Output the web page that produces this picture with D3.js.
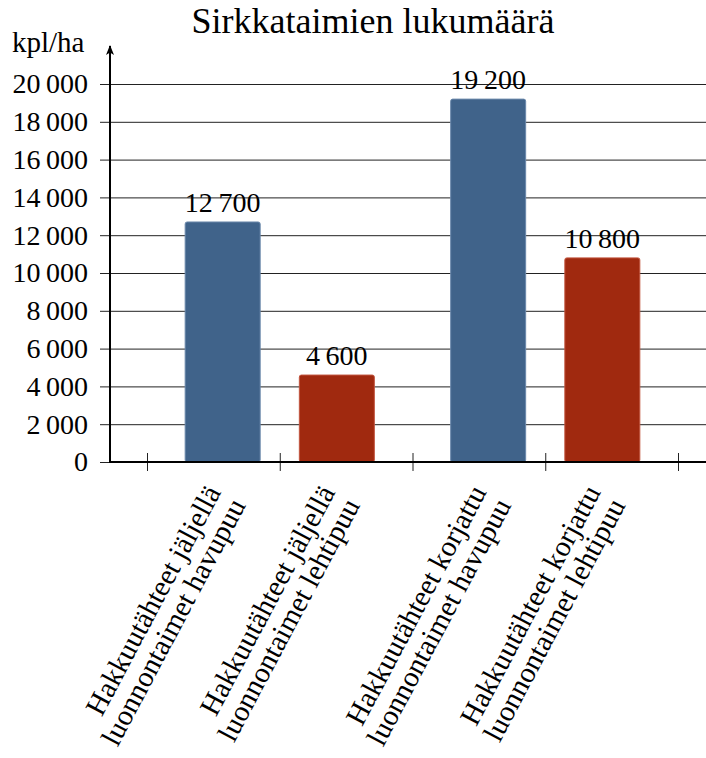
<!DOCTYPE html>
<html>
<head>
<meta charset="utf-8">
<script src="https://cdn.jsdelivr.net/npm/d3@7"></script>
<style>
  body { margin: 0; background: #fff; }
</style>
</head>
<body>
<div id="node"></div>
<script>
// chart data
const title = "Sirkkataimien lukumäärä";
const yLabel = "kpl/ha";
const groups = ["Hakkuutähteet jäljellä", "Hakkuutähteet korjattu"];
const species = ["luonnontaimet havupuu", "luonnontaimet lehtipuu"];
const values = [
    [12700, 4600],   // jäljellä: havupuu, lehtipuu
    [19200, 10800]   // korjattu: havupuu, lehtipuu
];
const colors = ["#40638a", "#a0290f"];
const strokes = ["#6a88ab", "#c2553f"];
const yTicks = [0, 2000, 4000, 6000, 8000, 10000, 12000, 14000, 16000, 18000, 20000];
const xTicks = [0, 1, 2, 3, 4];

const width = 706, height = 758;
const axisLeftX = 110, axisY = 462;
const serif = "Liberation Serif";

// finnish number format with thin space thousands separator
const fi = d3.formatLocale({ decimal: ",", thousands: "\u2009", grouping: [3], currency: ["", " €"] });
const fmt = fi.format(",d");

const svg = d3.select("#node")
    .append("svg")
    .attr("width", width)
    .attr("height", height)
    .style("font-family", serif);

const x = d3.scaleLinear().domain([0, 4]).range([147, 678]);
const y = d3.scaleLinear().domain([0, 20000]).range([axisY, 84]);

const barW = x(0.565) - x(0);
const offset = 0.43;

// grid lines
svg.append("g")
    .attr("transform", "translate(" + axisLeftX + ",0)")
    .call(d3.axisLeft(y).tickValues(yTicks).tickSize(-(width - axisLeftX)).tickFormat(""))
    .call(g => g.select(".domain").remove())
    .call(g => g.selectAll("line").attr("stroke", "#222").attr("stroke-width", 1));

// y axis ticks + labels
svg.append("g")
    .attr("transform", "translate(" + axisLeftX + ",0)")
    .call(d3.axisLeft(y).tickValues(yTicks).tickSize(10).tickPadding(12).tickFormat(fmt))
    .call(g => g.select(".domain").remove())
    .call(g => g.selectAll("line").attr("stroke", "#222"))
    .call(g => g.selectAll("text")
        .style("font-family", serif)
        .attr("font-size", 28)
        .attr("fill", "#000"));

// bars
const bars = [];
values.forEach((row, gi) => {
    row.forEach((v, si) => {
        bars.push({ group: gi, series: si, value: v, pos: gi * 2 + 1 + (si === 0 ? -offset : offset) });
    });
});

svg.append("g")
    .selectAll("rect")
    .data(bars)
    .enter()
    .append("rect")
    .attr("x", d => x(d.pos) - barW / 2)
    .attr("y", d => y(d.value))
    .attr("width", barW)
    .attr("height", d => axisY - y(d.value))
    .attr("rx", 2)
    .attr("fill", d => colors[d.series])
    .attr("stroke", d => strokes[d.series])
    .attr("stroke-width", 1);

// value labels
svg.append("g")
    .selectAll("text")
    .data(bars)
    .enter()
    .append("text")
    .attr("x", d => x(d.pos))
    .attr("y", d => y(d.value) - 10)
    .attr("text-anchor", "middle")
    .style("font-family", serif)
    .attr("font-size", 28)
    .text(d => fmt(d.value));

// x axis
svg.append("g")
    .attr("transform", "translate(0," + axisY + ")")
    .call(d3.axisBottom(x).tickValues(xTicks).tickSize(9).tickFormat(""))
    .call(g => g.select(".domain").remove())
    .call(g => g.selectAll("line").attr("y1", -9).attr("stroke", "#222"));

svg.append("line")
    .attr("x1", axisLeftX - 1).attr("x2", width)
    .attr("y1", axisY).attr("y2", axisY)
    .attr("stroke", "#000").attr("stroke-width", 2);

// y axis line with arrow
svg.append("defs").append("marker")
    .attr("id", "arrow")
    .attr("viewBox", "0 0 10 10")
    .attr("refX", 9).attr("refY", 5)
    .attr("markerWidth", 5).attr("markerHeight", 5)
    .attr("markerUnits", "strokeWidth")
    .attr("orient", "auto")
    .append("path")
    .attr("d", "M0,1 L10,5 L0,9 L2.5,5 Z")
    .attr("fill", "#000");

svg.append("line")
    .attr("x1", axisLeftX).attr("x2", axisLeftX)
    .attr("y1", axisY + 1).attr("y2", 46)
    .attr("stroke", "#000").attr("stroke-width", 2)
    .attr("marker-end", "url(#arrow)");

// category labels (rotated, two lines)
const labelAngle = -62;
const labels = svg.append("g")
    .selectAll("text")
    .data(bars)
    .enter()
    .append("text")
    .attr("transform", d => "translate(" + (x(d.pos) - 1) + ",492) rotate(" + labelAngle + ")")
    .attr("text-anchor", "end")
    .style("font-family", serif)
    .attr("font-size", 29);
labels.append("tspan").attr("x", 0).attr("dy", 0).text(d => groups[d.group]);
labels.append("tspan").attr("x", 0).attr("dy", 28).text(d => species[d.series]);

// title
svg.append("text")
    .attr("x", 373)
    .attr("y", 33)
    .attr("text-anchor", "middle")
    .style("font-family", serif)
    .attr("font-size", 36)
    .text(title);

// y axis label
svg.append("text")
    .attr("x", 12)
    .attr("y", 52)
    .style("font-family", serif)
    .attr("font-size", 29)
    .text(yLabel);
</script>
</body>
</html>
